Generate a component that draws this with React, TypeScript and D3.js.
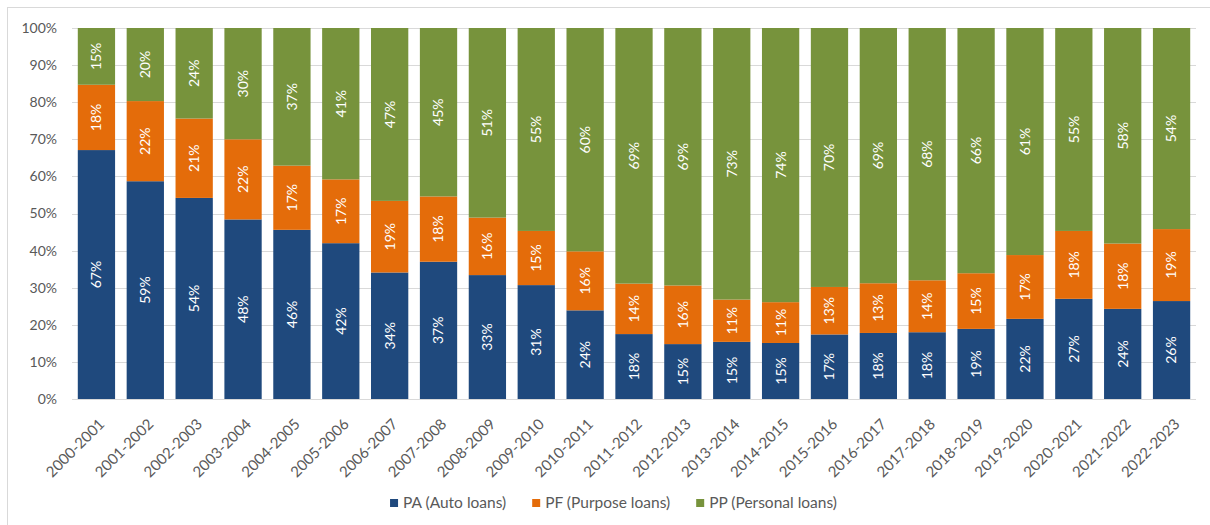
import React, { useLayoutEffect, useRef, useState } from "react";
import * as d3 from "d3";

const categories = [
  "2000-2001", "2001-2002", "2002-2003", "2003-2004", "2004-2005", "2005-2006",
  "2006-2007", "2007-2008", "2008-2009", "2009-2010", "2010-2011", "2011-2012",
  "2012-2013", "2013-2014", "2014-2015", "2015-2016", "2016-2017", "2017-2018",
  "2018-2019", "2019-2020", "2020-2021", "2021-2022", "2022-2023",
];

const paAuto = [67.1, 58.7, 54.2, 48.4, 45.6, 42.0, 34.1, 37.0, 33.4, 30.7, 23.9, 17.5, 14.8, 15.4, 15.1, 17.4, 17.8, 18.0, 18.9, 21.6, 27.0, 24.3, 26.4];
const pfPurpose = [17.6, 21.6, 21.4, 21.6, 17.3, 17.2, 19.3, 17.6, 15.5, 14.6, 15.9, 13.6, 15.8, 11.4, 11.0, 12.8, 13.4, 14.0, 15.0, 17.2, 18.3, 17.6, 19.4];
const ppPersonal = [15.3, 19.7, 24.4, 30.0, 37.1, 40.8, 46.6, 45.4, 51.1, 54.7, 60.2, 68.9, 69.4, 73.2, 73.9, 69.8, 68.8, 68.0, 66.1, 61.2, 54.7, 58.1, 54.2];

const seriesNames = ["PA (Auto loans)", "PF (Purpose loans)", "PP (Personal loans)"];
const seriesKeys = ["pa", "pf", "pp"];
const seriesColors = ["#1F497D", "#E46C0A", "#77933C"];
const yTicks = [0, 10, 20, 30, 40, 50, 60, 70, 80, 90, 100];

const W = 1210;
const H = 525;
const FONT = "Lato, 'Open Sans', sans-serif";

export default function App() {
  const rows = categories.map((c, i) => ({ cat: c, pa: paAuto[i], pf: pfPurpose[i], pp: ppPersonal[i] }));
  const stack = d3.stack<any>().keys(seriesKeys)(rows);

  const x = d3.scaleBand<string>().domain(categories).range([72, 1196]).paddingInner(0.237).paddingOuter(0.1185);
  const y = d3.scaleLinear().domain([0, 100]).range([399, 28]);

  const legendRefs = useRef<(SVGTextElement | null)[]>([]);
  const [widths, setWidths] = useState<number[]>([103, 124, 125]);
  useLayoutEffect(() => {
    const w = legendRefs.current.map((t) => (t ? t.getComputedTextLength() : 100));
    setWidths(w);
  }, []);

  const sq = 8;
  const textGap = 5;
  const itemGap = 26;
  const itemWidths = widths.map((w) => sq + textGap + w);
  const total = itemWidths.reduce((a, b) => a + b, 0) + itemGap * (itemWidths.length - 1);
  const legendStart = 613.5 - total / 2;
  const legendX: number[] = [];
  let acc = legendStart;
  itemWidths.forEach((w) => {
    legendX.push(acc);
    acc += w + itemGap;
  });

  return (
    <svg width={W} height={H} style={{ position: "absolute", left: 0, top: 0, background: "#fff" }} fontFamily={FONT}>
      <rect x={0} y={0} width={W} height={H} fill="#fff" />
      <rect x={7.5} y={7.5} width={W + 10} height={H + 10} fill="none" stroke="#d9d9d9" strokeWidth={1} />
      {yTicks.map((t) => (
        <g key={t}>
          <line x1={72} x2={1196} y1={Math.round(y(t)) + 0.5} y2={Math.round(y(t)) + 0.5} stroke="#d9d9d9" strokeWidth={1} />
          <text x={57} y={y(t)} dy="0.35em" textAnchor="end" fontSize={14} fill="#595959">{t}%</text>
        </g>
      ))}
      {stack.map((s, si) => (
        <g key={s.key} fill={seriesColors[si]}>
          {s.map((d: any, i: number) => (
            <rect key={i} x={x(categories[i])} width={x.bandwidth()} y={y(d[1])} height={y(d[0]) - y(d[1])} />
          ))}
        </g>
      ))}
      {stack.map((s, si) => (
        <g key={s.key + "l"}>
          {s.map((d: any, i: number) => {
            const cx = (x(categories[i]) as number) + x.bandwidth() / 2;
            const cy = (y(d[0]) + y(d[1])) / 2;
            return (
              <text key={i} transform={`translate(${cx},${cy}) rotate(-90)`} textAnchor="middle" dy="0.35em" fontSize={14} fill="#ffffff">
                {Math.round(d[1] - d[0])}%
              </text>
            );
          })}
        </g>
      ))}
      {categories.map((c) => {
        const cx = (x(c) as number) + x.bandwidth() / 2;
        return (
          <text key={c} transform={`translate(${cx + 9},${425}) rotate(-45)`} textAnchor="end" fontSize={15} fill="#595959">
            {c}
          </text>
        );
      })}
      {seriesNames.map((n, i) => (
        <g key={n}>
          <rect x={legendX[i]} y={499} width={sq} height={sq} fill={seriesColors[i]} />
          <text ref={(el) => { legendRefs.current[i] = el; }} x={legendX[i] + sq + textGap} y={503} dy="0.35em" fontSize={15.5} fill="#595959">
            {n}
          </text>
        </g>
      ))}
    </svg>
  );
}
